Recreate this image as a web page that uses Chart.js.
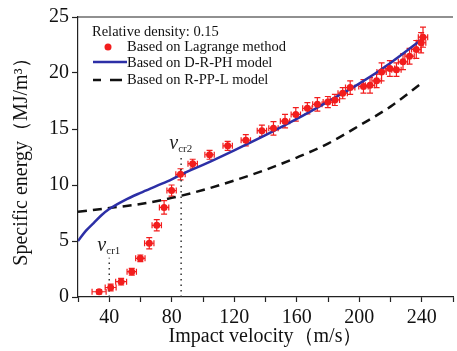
<!DOCTYPE html>
<html>
<head>
<meta charset="utf-8">
<script src="https://cdn.jsdelivr.net/npm/chart.js@4.4.1/dist/chart.umd.min.js"></script>
<style>
  html, body { margin: 0; padding: 0; background: #fff; }
  #wrap { width: 457px; height: 351px; }
</style>
</head>
<body>
<div id="wrap"><canvas id="grafica"></canvas></div>
<script>
// Lagrange method points (impact velocity, specific energy) and their error bars
const lagVel = [33.5, 40.9, 47.6, 54.4, 59.9, 65.6, 70.4, 75.1, 79.9, 85.6, 93.4, 104.2, 115.8, 127.4, 137.7, 145.1, 152.5, 159.4, 166.8, 173.2, 179.9, 184.4, 189.4, 194.2, 202.7, 206.9, 211.1, 214.3, 219.6, 223.8, 228.0, 232.2, 236.5, 239.6, 240.8];
const lagEnergy = [0.47, 0.85, 1.37, 2.26, 3.45, 4.8, 6.4, 8.0, 9.5, 10.95, 11.9, 12.7, 13.5, 14.0, 14.85, 15.06, 15.7, 16.3, 16.85, 17.2, 17.4, 17.6, 18.2, 18.7, 18.8, 18.9, 19.3, 20.1, 20.4, 20.3, 21.0, 21.5, 22.1, 22.7, 23.2];
const lagVelErr = [4.5, 3.5, 3.5, 3, 3, 3, 3, 3, 3, 3, 3, 3, 3, 3, 3, 3, 3, 3, 3, 3, 3, 3, 3, 3, 3, 3, 3, 3, 3, 3, 3, 3, 3, 3, 3];
const lagEnergyErr = [0.2, 0.3, 0.3, 0.3, 0.3, 0.5, 0.5, 0.6, 0.5, 0.5, 0.4, 0.4, 0.4, 0.5, 0.5, 0.6, 0.6, 0.6, 0.5, 0.6, 0.5, 0.5, 0.5, 0.6, 0.6, 0.7, 0.6, 0.8, 0.7, 0.6, 0.7, 0.7, 0.8, 0.9, 0.9];

// D-R-PH model curve
const drphVel = [20, 25, 30, 35, 40, 50, 60, 70, 80, 90, 100, 120, 140, 160, 180, 200, 220, 241];
const drphEnergy = [5.0, 5.9, 6.6, 7.3, 7.85, 8.65, 9.3, 9.9, 10.5, 11.2, 11.8, 13.1, 14.45, 15.9, 17.45, 19.05, 20.9, 23.1];

// R-PP-L model curve
const rppVel = [20, 40, 60, 80, 100, 120, 140, 160, 180, 200, 220, 241];
const rppEnergy = [7.6, 7.95, 8.3, 8.85, 9.55, 10.4, 11.35, 12.45, 13.7, 15.3, 17.0, 19.2];

// critical velocities
const vcrVel = [40, 86];
const vcrTop = [3.5, 12.6];
const vcrNames = ['cr1', 'cr2'];

const rojo = '#f21d1d';
const azul = '#2c2fa6';
const fuente = 'Liberation Serif, Times New Roman, serif';

function puntos(xs, ys) {
    return xs.map((x, i) => ({ x: x, y: ys[i] }));
}

const pluginBarras = {
    id: 'barrasError',
    beforeDatasetsDraw(chart) {
        const ctx = chart.ctx;
        const sx = chart.scales.x, sy = chart.scales.y;
        ctx.save();
        ctx.strokeStyle = rojo;
        ctx.lineWidth = 1.2;
        lagVel.forEach((v, i) => {
            const px = sx.getPixelForValue(v);
            const py = sy.getPixelForValue(lagEnergy[i]);
            const x1 = sx.getPixelForValue(v - lagVelErr[i]);
            const x2 = sx.getPixelForValue(v + lagVelErr[i]);
            const y1 = sy.getPixelForValue(lagEnergy[i] - lagEnergyErr[i]);
            const y2 = sy.getPixelForValue(lagEnergy[i] + lagEnergyErr[i]);
            ctx.beginPath();
            ctx.moveTo(x1, py); ctx.lineTo(x2, py);
            ctx.moveTo(x1, py - 3); ctx.lineTo(x1, py + 3);
            ctx.moveTo(x2, py - 3); ctx.lineTo(x2, py + 3);
            ctx.moveTo(px, y1); ctx.lineTo(px, y2);
            ctx.moveTo(px - 3, y1); ctx.lineTo(px + 3, y1);
            ctx.moveTo(px - 3, y2); ctx.lineTo(px + 3, y2);
            ctx.stroke();
        });
        ctx.restore();
    }
};

const pluginTextos = {
    id: 'textos',
    afterDraw(chart) {
        const ctx = chart.ctx;
        const area = chart.chartArea;
        const sx = chart.scales.x, sy = chart.scales.y;
        ctx.save();
        // borde superior
        ctx.strokeStyle = '#222';
        ctx.lineWidth = 1.2;
        ctx.beginPath();
        ctx.moveTo(area.left, area.top);
        ctx.lineTo(area.right, area.top);
        ctx.stroke();

        // leyenda
        ctx.fillStyle = '#111';
        ctx.textBaseline = 'middle';
        ctx.textAlign = 'left';
        ctx.font = '14.5px ' + fuente;
        ctx.fillText('Relative density: 0.15', 92, 32);
        ctx.fillText('Based on Lagrange method', 127, 47);
        ctx.fillText('Based on D-R-PH model', 127, 63);
        ctx.fillText('Based on R-PP-L model', 127, 80);
        ctx.fillStyle = rojo;
        ctx.beginPath();
        ctx.arc(108, 47, 3.5, 0, Math.PI * 2);
        ctx.fill();
        ctx.lineWidth = 2.5;
        ctx.strokeStyle = azul;
        ctx.beginPath();
        ctx.moveTo(93, 62); ctx.lineTo(127, 62);
        ctx.stroke();
        ctx.strokeStyle = '#111';
        ctx.beginPath();
        ctx.moveTo(93, 80); ctx.lineTo(101, 80);
        ctx.moveTo(110, 80); ctx.lineTo(122, 80);
        ctx.stroke();

        // etiquetas v_cr
        ctx.fillStyle = '#222';
        vcrVel.forEach((v, i) => {
            const px = sx.getPixelForValue(v) - 3;
            const py = sy.getPixelForValue(vcrTop[i]) - 12;
            ctx.font = 'italic 20px ' + fuente;
            ctx.textAlign = 'right';
            ctx.fillText('v', px, py);
            ctx.font = '11px ' + fuente;
            ctx.textAlign = 'left';
            ctx.fillText(vcrNames[i], px, py + 5);
        });
        ctx.restore();
    }
};

new Chart(document.getElementById('grafica'), {
    type: 'scatter',
    data: {
        datasets: [
            {
                label: 'Based on Lagrange method',
                data: puntos(lagVel, lagEnergy),
                backgroundColor: rojo,
                borderColor: rojo,
                pointRadius: 3.5,
                borderWidth: 0
            },
            {
                label: 'Based on D-R-PH model',
                data: puntos(drphVel, drphEnergy),
                showLine: true,
                borderColor: azul,
                borderWidth: 2.5,
                pointRadius: 0,
                cubicInterpolationMode: 'monotone'
            },
            {
                label: 'Based on R-PP-L model',
                data: puntos(rppVel, rppEnergy),
                showLine: true,
                borderColor: '#111',
                borderWidth: 2.5,
                borderDash: [9, 6],
                pointRadius: 0,
                cubicInterpolationMode: 'monotone'
            },
            ...vcrVel.map((v, i) => ({
                label: 'v' + vcrNames[i],
                data: [{ x: v, y: 0 }, { x: v, y: vcrTop[i] }],
                showLine: true,
                borderColor: '#333',
                borderWidth: 1.5,
                borderDash: [1.5, 4],
                pointRadius: 0
            }))
        ]
    },
    options: {
        responsive: true,
        maintainAspectRatio: false,
        animation: false,
        layout: { padding: { top: 17, right: 0, left: 0, bottom: 0 } },
        plugins: { legend: { display: false }, tooltip: { enabled: false } },
        scales: {
            x: {
                type: 'linear',
                min: 20,
                max: 260,
                afterFit: s => { s.height = 54; },
                grid: { display: true, drawOnChartArea: false, tickLength: 5, tickColor: '#222', tickWidth: 1.2 },
                border: { color: '#222', width: 1.2 },
                ticks: {
                    stepSize: 20,
                    padding: 4,
                    color: '#111',
                    font: { family: fuente, size: 20 },
                    maxRotation: 0,
                    autoSkip: false,
                    callback: v => (v % 40 === 0 && v < 260) ? v : ''
                },
                title: {
                    display: true,
                    text: 'Impact velocity（m/s）',
                    color: '#111',
                    font: { family: fuente, size: 20 },
                    padding: { top: 0, bottom: 2 }
                }
            },
            y: {
                min: 0,
                max: 25,
                afterFit: s => { s.width = 78; },
                grid: { display: true, drawOnChartArea: false, tickLength: 6, tickColor: '#222', tickWidth: 1.2 },
                border: { color: '#222', width: 1.2 },
                ticks: {
                    stepSize: 5,
                    padding: 3,
                    color: '#111',
                    font: { family: fuente, size: 20 }
                },
                title: {
                    display: true,
                    text: 'Specific energy（MJ/m³）',
                    color: '#111',
                    font: { family: fuente, size: 20 },
                    padding: { top: 10, bottom: 0 }
                }
            }
        }
    },
    plugins: [pluginBarras, pluginTextos]
});
</script>
</body>
</html>
